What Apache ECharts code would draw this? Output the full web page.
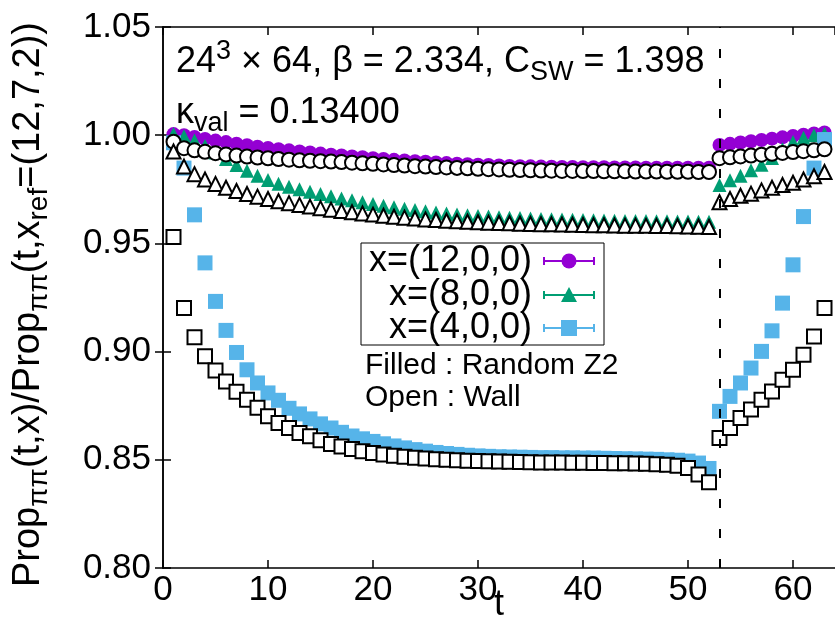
<!DOCTYPE html>
<html><head><meta charset="utf-8">
<script src="https://cdn.jsdelivr.net/npm/echarts@6/dist/echarts.min.js"></script>
<style>html,body{margin:0;padding:0;background:#fff}#c{width:835px;height:621px}</style>
</head><body><div id="c"></div>
<script>
const tValues = [1,2,3,4,5,6,7,8,9,10,11,12,13,14,15,16,17,18,19,20,21,22,23,24,25,26,27,28,29,30,31,32,33,34,35,36,37,38,39,40,41,42,43,44,45,46,47,48,49,50,51,52,53,54,55,56,57,58,59,60,61,62,63];
const xTicks = [0,10,20,30,40,50,60];
const yTicks = [0.80,0.85,0.90,0.95,1.00,1.05];
const wallBoundary = 53;

// Filled : Random Z2
const z2_x12 = [1.0005,1.0000,0.9992,0.9983,0.9975,0.9968,0.9961,0.9954,0.9947,0.9941,0.9935,0.9930,0.9925,0.9920,0.9915,0.9910,0.9906,0.9902,0.9898,0.9894,0.9890,0.9886,0.9883,0.9880,0.9877,0.9874,0.9871,0.9868,0.9866,0.9864,0.9862,0.9860,0.9858,0.9857,0.9856,0.9855,0.9854,0.9853,0.9853,0.9852,0.9852,0.9852,0.9851,0.9851,0.9851,0.9850,0.9850,0.9850,0.9850,0.9850,0.9850,0.9850,0.9955,0.9960,0.9966,0.9972,0.9978,0.9984,0.9990,0.9996,1.0002,1.0008,1.0013];
const z2_x8 = [1.0005,0.9995,0.9975,0.9950,0.9920,0.9890,0.9862,0.9836,0.9813,0.9793,0.9776,0.9762,0.9750,0.9739,0.9728,0.9718,0.9708,0.9699,0.9690,0.9682,0.9674,0.9667,0.9660,0.9654,0.9648,0.9643,0.9638,0.9634,0.9630,0.9627,0.9624,0.9621,0.9619,0.9617,0.9615,0.9613,0.9612,0.9610,0.9609,0.9608,0.9607,0.9606,0.9605,0.9604,0.9603,0.9603,0.9602,0.9602,0.9601,0.9601,0.9600,0.9600,0.9770,0.9792,0.9813,0.9838,0.9863,0.9895,0.9935,0.9968,0.9988,1.0000,1.0005];
const z2_x4 = [0.9965,0.9848,0.9632,0.9410,0.9232,0.9098,0.8996,0.8916,0.8855,0.8809,0.8775,0.8738,0.8712,0.8689,0.8666,0.8647,0.8627,0.8610,0.8597,0.8585,0.8574,0.8564,0.8555,0.8547,0.8540,0.8534,0.8529,0.8525,0.8521,0.8518,0.8516,0.8514,0.8513,0.8512,0.8511,0.8510,0.8510,0.8509,0.8509,0.8508,0.8508,0.8507,0.8506,0.8505,0.8504,0.8503,0.8502,0.8500,0.8498,0.8494,0.8485,0.8460,0.8724,0.8793,0.8855,0.8924,0.9001,0.9096,0.9224,0.9401,0.9624,0.9848,0.9980];
// Open : Wall
const wall_x12 = [0.9970,0.9940,0.9930,0.9923,0.9917,0.9911,0.9906,0.9901,0.9897,0.9893,0.9890,0.9887,0.9884,0.9882,0.9880,0.9878,0.9876,0.9873,0.9870,0.9868,0.9865,0.9862,0.9860,0.9857,0.9855,0.9853,0.9851,0.9849,0.9847,0.9845,0.9843,0.9842,0.9840,0.9839,0.9838,0.9837,0.9836,0.9835,0.9835,0.9834,0.9834,0.9833,0.9833,0.9833,0.9832,0.9832,0.9832,0.9831,0.9831,0.9831,0.9830,0.9830,0.9894,0.9898,0.9902,0.9906,0.9910,0.9914,0.9918,0.9922,0.9926,0.9930,0.9935];
const wall_x8 = [0.9925,0.9855,0.9820,0.9795,0.9775,0.9757,0.9742,0.9728,0.9716,0.9705,0.9695,0.9686,0.9678,0.9670,0.9663,0.9656,0.9650,0.9644,0.9638,0.9633,0.9628,0.9623,0.9619,0.9615,0.9611,0.9608,0.9605,0.9602,0.9600,0.9598,0.9596,0.9594,0.9593,0.9591,0.9590,0.9589,0.9588,0.9587,0.9586,0.9585,0.9584,0.9584,0.9583,0.9582,0.9582,0.9581,0.9580,0.9580,0.9579,0.9578,0.9577,0.9576,0.9690,0.9705,0.9720,0.9730,0.9745,0.9757,0.9770,0.9780,0.9795,0.9810,0.9830];
const wall_x4 = [0.9529,0.9201,0.9066,0.8978,0.8913,0.8862,0.8815,0.8778,0.8740,0.8701,0.8670,0.8647,0.8624,0.8609,0.8590,0.8573,0.8561,0.8550,0.8540,0.8532,0.8525,0.8519,0.8514,0.8510,0.8506,0.8503,0.8500,0.8498,0.8496,0.8494,0.8493,0.8492,0.8491,0.8490,0.8489,0.8488,0.8487,0.8487,0.8486,0.8486,0.8485,0.8485,0.8484,0.8484,0.8483,0.8482,0.8480,0.8477,0.8472,0.8462,0.8432,0.8396,0.8601,0.8647,0.8693,0.8732,0.8778,0.8816,0.8870,0.8916,0.8986,0.9070,0.9201];

const legendNames = ['x=(12,0,0)','x=(8,0,0)','x=(4,0,0)'];
const colors = ['#9400d3','#009e73','#56b4e9'];
const FONT = "'Liberation Sans', Arial, sans-serif";

const pairs = arr => tValues.map((t, i) => [t, arr[i]]);

const chart = echarts.init(document.getElementById('c'), null, {renderer: 'canvas'});

function filled(name, data, symbol, size, color) {
  return {type: 'scatter', name, data: pairs(data), symbol, symbolSize: size,
    itemStyle: {color: color, opacity: 1}, z: 2, silent: true, animation: false};
}
function open(name, data, symbol, size) {
  return {type: 'scatter', name, data: pairs(data), symbol, symbolSize: size,
    itemStyle: {color: '#ffffff', borderColor: '#000000', borderWidth: 2, opacity: 1}, z: 3, silent: true, animation: false};
}

const rowY = [261, 295, 328];
const legendGraphics = [];
legendGraphics.push({type: 'rect', shape: {x: 361, y: 243, width: 243, height: 102}, style: {fill: 'none', stroke: '#000', lineWidth: 1}});
const legendSymbols = [
  (cx, cy, c) => ({type: 'circle', shape: {cx, cy, r: 7.5}, style: {fill: c}}),
  (cx, cy, c) => ({type: 'polygon', shape: {points: [[cx, cy - 8], [cx - 8, cy + 7], [cx + 8, cy + 7]]}, style: {fill: c}}),
  (cx, cy, c) => ({type: 'rect', shape: {x: cx - 8, y: cy - 8, width: 16, height: 16}, style: {fill: c}})
];
legendNames.forEach((nm, i) => {
  const y = rowY[i], c = colors[i];
  legendGraphics.push({type: 'text', x: 532, y: y, style: {text: nm, font: '36px ' + FONT, fill: '#000', textAlign: 'right', textVerticalAlign: 'middle'}});
  legendGraphics.push({type: 'line', shape: {x1: 544, y1: y, x2: 594, y2: y}, style: {stroke: c, lineWidth: 2}});
  legendGraphics.push({type: 'line', shape: {x1: 544, y1: y - 4, x2: 544, y2: y + 4}, style: {stroke: c, lineWidth: 2}});
  legendGraphics.push({type: 'line', shape: {x1: 594, y1: y - 4, x2: 594, y2: y + 4}, style: {stroke: c, lineWidth: 2}});
  legendGraphics.push(legendSymbols[i](569, y, c));
});
legendGraphics.push({type: 'text', x: 365, y: 366, style: {text: 'Filled : Random Z2', font: '30px ' + FONT, fill: '#000', textVerticalAlign: 'middle'}});
legendGraphics.push({type: 'text', x: 365, y: 398, style: {text: 'Open : Wall', font: '30px ' + FONT, fill: '#000', textVerticalAlign: 'middle'}});

const richTitle = {
  n: {fontSize: 36, fontFamily: FONT, color: '#000', lineHeight: 48, verticalAlign: 'middle'},
  sub: {fontSize: 27, fontFamily: FONT, color: '#000', lineHeight: 22, verticalAlign: 'bottom'},
  sup: {fontSize: 27, fontFamily: FONT, color: '#000', lineHeight: 18, verticalAlign: 'top'}
};
const richAxis = {
  n: {fontSize: 38, fontFamily: FONT, color: '#000', lineHeight: 48, verticalAlign: 'middle'},
  sub: {fontSize: 28, fontFamily: FONT, color: '#000', lineHeight: 22, verticalAlign: 'bottom'}
};

const option = {
  backgroundColor: '#ffffff',
  animation: false,
  textStyle: {fontFamily: FONT},
  grid: {left: 163, right: 0, top: 27, bottom: 53, containLabel: false, outerBoundsMode: 'none'},
  xAxis: [{
    type: 'value', min: 0, max: 64, interval: 10, position: 'bottom',
    name: 't', nameLocation: 'middle', nameGap: 19, nameMoveOverlap: false,
    nameTextStyle: {fontSize: 36, color: '#000', fontFamily: FONT},
    axisLine: {show: true, lineStyle: {color: '#000', width: 1.5}},
    axisTick: {show: true, inside: true, length: 8, lineStyle: {color: '#000', width: 1.5}},
    axisLabel: {show: true, fontSize: 35, color: '#000', fontFamily: FONT, margin: 5, showMaxLabel: false},
    splitLine: {show: false}
  }, {
    type: 'value', min: 0, max: 64, interval: 10, position: 'top',
    axisLine: {show: true, lineStyle: {color: '#000', width: 1.5}},
    axisTick: {show: true, inside: true, length: 8, lineStyle: {color: '#000', width: 1.5}},
    axisLabel: {show: false}, splitLine: {show: false}
  }],
  yAxis: [{
    type: 'value', min: 0.80, max: 1.05, interval: 0.05, position: 'left',
    name: '{n|Prop}{sub|ππ}{n|(t,x)/Prop}{sub|ππ}{n|(t,x}{sub|ref}{n|=(12,7,2))}',
    nameLocation: 'middle', nameRotate: 90, nameGap: 110, nameMoveOverlap: false,
    nameTextStyle: {rich: richAxis, padding: [0, 14, 0, 0]},
    axisLine: {show: true, lineStyle: {color: '#000', width: 1.5}},
    axisTick: {show: true, inside: true, length: 8, lineStyle: {color: '#000', width: 1.5}},
    axisLabel: {show: true, fontSize: 35, color: '#000', fontFamily: FONT, margin: 12,
      formatter: v => v.toFixed(2)},
    splitLine: {show: false}
  }, {
    type: 'value', min: 0.80, max: 1.05, interval: 0.05, position: 'right',
    axisLine: {show: true, lineStyle: {color: '#000', width: 1.5}},
    axisTick: {show: true, inside: true, length: 8, lineStyle: {color: '#000', width: 1.5}},
    axisLabel: {show: false}, splitLine: {show: false}
  }],
  graphic: [
    {type: 'text', x: 176, y: 62, style: {text: '{n|24}{sup|3}{n| × 64, β = 2.334, C}{sub|SW}{n| = 1.398}', rich: richTitle, verticalAlign: 'middle'}, z: 10},
    {type: 'text', x: 176, y: 113, style: {text: '{n|κ}{sub|val}{n| = 0.13400}', rich: richTitle, verticalAlign: 'middle'}, z: 10},
    ...legendGraphics.map(g => Object.assign({z: 10}, g))
  ],
  series: [
    Object.assign(filled(legendNames[0], z2_x12, 'circle', 14, colors[0]), {
      markLine: {silent: true, symbol: ['none', 'none'], label: {show: false},
        lineStyle: {color: '#000', width: 2, type: [9, 21]},
        data: [{xAxis: wallBoundary}]}
    }),
    filled(legendNames[1], z2_x8, 'triangle', 14, colors[1]),
    filled(legendNames[2], z2_x4, 'rect', 15, colors[2]),
    open('wall x12', wall_x12, 'circle', 14),
    open('wall x8', wall_x8, 'triangle', 14),
    open('wall x4', wall_x4, 'rect', 14)
  ]
};
chart.setOption(option);
</script>
</body></html>
